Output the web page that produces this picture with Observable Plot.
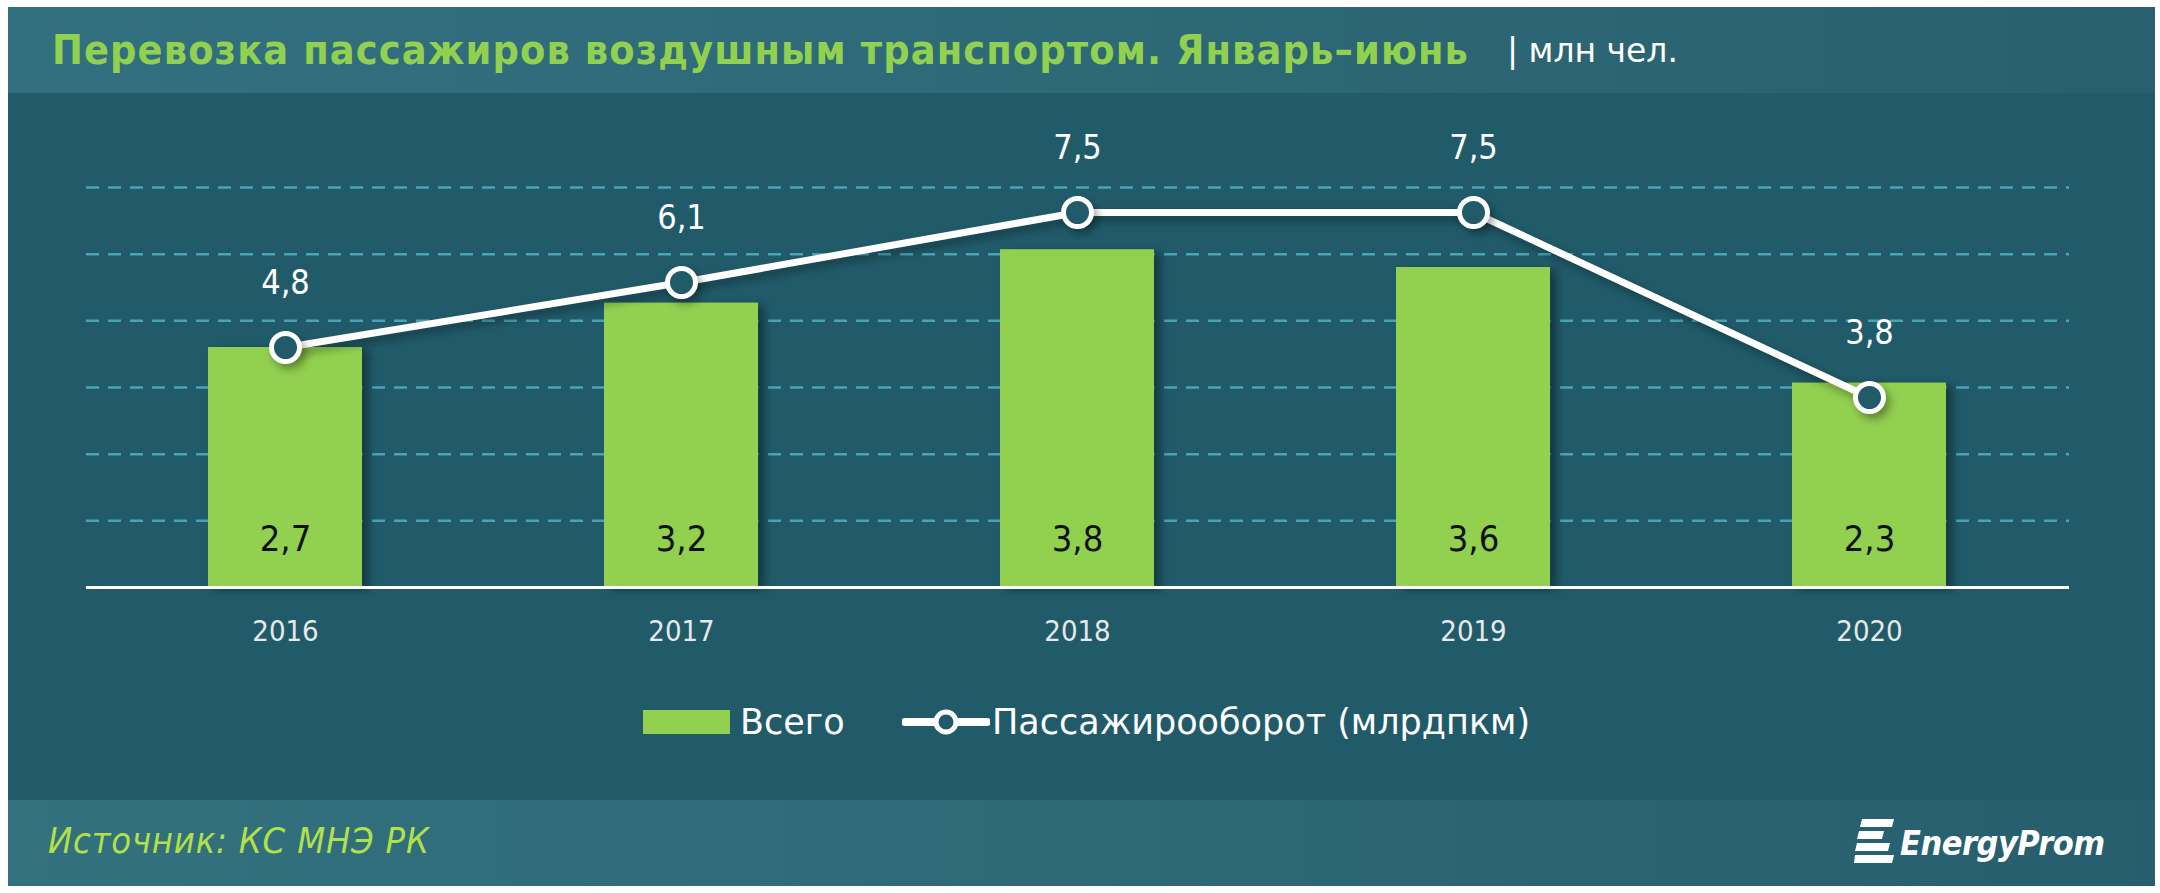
<!DOCTYPE html>
<html>
<head>
<meta charset="utf-8">
<script src="https://cdn.jsdelivr.net/npm/d3@7"></script>
<script src="https://cdn.jsdelivr.net/npm/@observablehq/plot@0.6"></script>
<style>
  html, body { margin: 0; padding: 0; background: #ffffff; }
  body { width: 2160px; height: 893px; position: relative; overflow: hidden;
         font-family: 'DejaVu Sans Condensed', 'Open Sans', sans-serif; }
  #panel { position: absolute; left: 8px; top: 7px; width: 2147px; height: 879px; background: #215b6a; overflow: hidden; }
  #title { position: absolute; left: 0; top: 0; width: 2147px; height: 86px;
           background: linear-gradient(to right, #33707f 0%, #2d6877 55%, #29606f 100%);
           display: flex; align-items: center; }
  #title .t { margin-left: 44px; color: #92d050; font-weight: bold; font-size: 41px; letter-spacing: 1.1px; white-space: nowrap; }
  #title .u { margin-left: 38px; color: #ffffff; font-family: 'DejaVu Sans', sans-serif; font-size: 33px; white-space: nowrap; }
  #chart { position: absolute; left: 0; top: 86px; }
  #legend { position: absolute; left: 0; top: 683px; width: 2147px; height: 110px; }
  .li { position: absolute; top: 14px; height: 36px; display: flex; align-items: center; color: #ffffff;
        font-family: 'DejaVu Sans', sans-serif; font-size: 35px; white-space: nowrap; }
  #footer { position: absolute; left: 0; top: 793px; width: 2147px; height: 86px;
            background: linear-gradient(to right, #33717f 0%, #2e6978 50%, #265e6d 100%); }
  #src { position: absolute; left: 40px; top: 20px; color: #b2e04a; font-style: italic; font-size: 36px; letter-spacing: 0.8px; white-space: nowrap; }
  #logo { position: absolute; left: 1846px; top: 17px; display: flex; align-items: center; }
  #logo span { color: #ffffff; font-style: italic; font-weight: bold; font-size: 34px; margin-left: 4px; letter-spacing: -0.5px; }
</style>
</head>
<body>
<div id="panel">
  <div id="title"><span class="t">Перевозка пассажиров воздушным транспортом. Январь–июнь</span><span class="u">| млн чел.</span></div>
  <div id="chart"></div>
  <div id="legend">
    <div class="li" style="left:635px;">
      <svg width="87" height="24"><rect x="0" y="0" width="87" height="24" fill="#92d050"></rect></svg>
      <span style="margin-left:10px;">Всего</span>
    </div>
    <div class="li" style="left:894px;">
      <svg width="88" height="34"><line x1="3" y1="17" x2="85" y2="17" stroke="#ffffff" stroke-width="8" stroke-linecap="round"></line><circle cx="44" cy="17" r="10" fill="#215b6a" stroke="#ffffff" stroke-width="5"></circle></svg>
      <span style="margin-left:2px;">Пассажирооборот (млрдпкм)</span>
    </div>
  </div>
  <div id="footer">
    <div id="src">Источник: КС МНЭ РК</div>
    <div id="logo">
      <svg width="42" height="52" viewBox="0 0 42 52">
        <g fill="#ffffff">
          <polygon points="8,2 40,2 38,10 6,10"></polygon>
          <polygon points="5,14 30,14 28,22 3,22"></polygon>
          <polygon points="3,26 36,26 34,34 1,34"></polygon>
          <polygon points="1,38 40,38 38,46 0,46"></polygon>
        </g>
      </svg>
      <span>EnergyProm</span>
    </div>
  </div>
</div>
<script>
// ---- data ----
const years = ["2016", "2017", "2018", "2019", "2020"];
const totalPassengers = [2.7, 3.2, 3.8, 3.6, 2.3];      // Всего, млн чел. (primary axis)
const passengerTurnover = [4.8, 6.1, 7.5, 7.5, 3.8];    // Пассажирооборот, млрд пкм (secondary axis)
const primaryAxisMax = 4.5;
const secondaryAxisMax = 8;
const gridTicks = [0.75, 1.5, 2.25, 3, 3.75, 4.5];

const data = years.map((year, i) => ({
  year,
  total: totalPassengers[i],
  turnover: passengerTurnover[i]
}));

const fmt = v => d3.format(".1f")(v).replace(".", ",");
const toPrimary = v => v * primaryAxisMax / secondaryAxisMax;
const FONT = "'DejaVu Sans Condensed', 'Open Sans', sans-serif";

const chart = Plot.plot({
  width: 2147,
  height: 597,
  marginLeft: 78,
  marginRight: 86,
  marginTop: 94,
  marginBottom: 103,
  style: { background: "transparent", fontFamily: FONT, overflow: "visible" },
  x: { type: "band", domain: years, paddingInner: 0.61, paddingOuter: 0.305, label: null },
  y: { domain: [0, primaryAxisMax], axis: null },
  marks: [
    Plot.ruleY(gridTicks, { stroke: "#4aa3b6", strokeWidth: 2.5, strokeDasharray: "13,9" }),
    Plot.barY(data, { x: "year", y: "total", fill: "#92d050" }),
    Plot.ruleY([0], { stroke: "#ffffff", strokeWidth: 3 }),
    Plot.text(data, { x: "year", y: 0, text: d => fmt(d.total), dy: -48, fill: "#111111", fontSize: 36 }),
    Plot.line(data, { x: "year", y: d => toPrimary(d.turnover), stroke: "#ffffff", strokeWidth: 7 }),
    Plot.dot(data, { x: "year", y: d => toPrimary(d.turnover), r: 14, fill: "#215b6a", stroke: "#ffffff", strokeWidth: 5 }),
    Plot.text(data, { x: "year", y: d => toPrimary(d.turnover), text: d => fmt(d.turnover), dy: -64, fill: "#ffffff", fontSize: 34 }),
    Plot.axisX({ tickSize: 0, tickPadding: 33, fontSize: 29, fill: "#e8e8e8" })
  ]
});

document.getElementById("chart").appendChild(chart);
d3.select(chart).selectAll('g[aria-label="bar"]').style("filter", "drop-shadow(7px 3px 4px rgba(0,0,0,0.35))");
d3.select(chart).selectAll('g[aria-label="line"], g[aria-label="dot"]').style("filter", "drop-shadow(4px 5px 4px rgba(0,0,0,0.35))");
</script>
</body>
</html>
